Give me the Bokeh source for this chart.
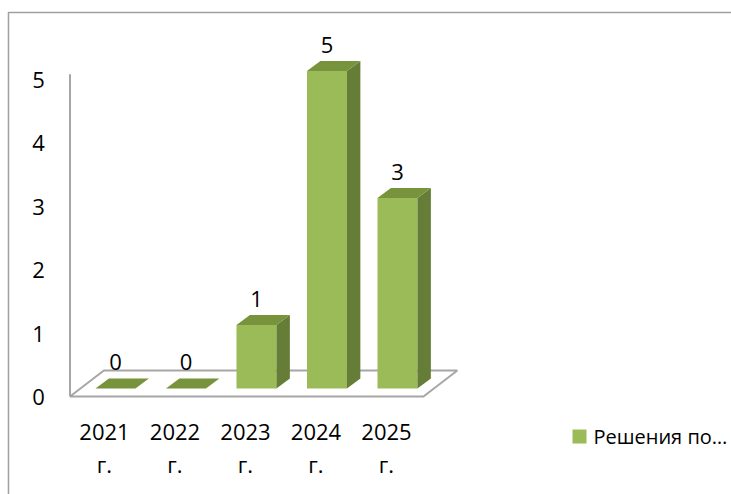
from bokeh.plotting import figure
from bokeh.models import Range1d
from bokeh.core.properties import value
from bokeh.embed import file_html
from bokeh.resources import INLINE

# --- data ---
years = ["2021", "2022", "2023", "2024", "2025"]
year_suffix = "г."
decisions = [0, 0, 1, 5, 3]
y_ticks = [0, 1, 2, 3, 4, 5]
series_label = "Решения по…"

# --- style ---
FONT = value("Open Sans")
FRONT = "#9bbb59"
SIDE = "#657d37"
TOP = "#77933c"
GRID = "#a6a6a6"

bar_w = 0.567      # bar width in category units
dx, dy = 0.19, 0.157  # oblique depth offset (x units, value units)

p = figure(width=731, height=494, output_backend="svg", toolbar_location=None,
           x_range=Range1d(-0.631, 9.738), y_range=Range1d(-1.669, 6.110),
           min_border=0, outline_line_color=None)
p.axis.visible = False
p.grid.visible = False
p.background_fill_color = "white"
p.border_fill_color = "white"

# chart-area border
p.quad(left=[-0.518], right=[12], bottom=[-3], top=[5.921],
       fill_color=None, line_color="#a0a0a0", line_width=1.5)

# floor and value-axis wall line
fl, fr, ff, fb, shift = 0.355, 5.369, -0.126, 0.283, 0.48
p.patch([fl, fr, fr + shift, fl + shift], [ff, ff, fb, fb],
        fill_color=None, line_color=GRID, line_width=2)
p.line([fl, fl], [ff, 4.95], line_color=GRID, line_width=2)

# value tick labels
p.text(x=[-0.092] * len(y_ticks), y=[t - 0.14 for t in y_ticks],
       text=[str(t) for t in y_ticks], text_font=FONT, text_font_size="22px",
       text_align="center", text_baseline="middle", text_color="black")

# 3D columns
xs = [i + 1 for i in range(len(years))]
front_l = [c - bar_w / 2 for c in xs]
front_r = [c + bar_w / 2 for c in xs]

side_x = [[r, r + dx, r + dx, r] for r in front_r]
side_y = [[0, dy, v + dy, v] for v in decisions]
top_x = [[l, r, r + dx, l + dx] for l, r in zip(front_l, front_r)]
top_y = [[v, v, v + dy, v + dy] for v in decisions]

p.quad(left=front_l, right=front_r, bottom=[0] * len(xs), top=decisions,
       fill_color=FRONT, line_color=None)
p.patches(side_x, side_y, fill_color=SIDE, line_color=None)
p.patches(top_x, top_y, fill_color=TOP, line_color=None)

# data labels
p.text(x=xs, y=[v + 0.41 for v in decisions], text=[str(v) for v in decisions],
       text_font=FONT, text_font_size="22px", text_align="center",
       text_baseline="middle", text_color="black")

# category labels (two lines)
cat_x = [c - 0.156 for c in xs]
p.text(x=cat_x, y=[-0.677] * len(xs), text=years, text_font=FONT,
       text_font_size="22px", text_align="center", text_baseline="middle",
       text_color="black")
p.text(x=cat_x, y=[-1.181] * len(xs), text=[year_suffix] * len(xs), text_font=FONT,
       text_font_size="22px", text_align="center", text_baseline="middle",
       text_color="black")

# legend
p.scatter(x=[7.582], y=[-0.756], marker="square", size=14,
          fill_color=FRONT, line_color=None)
p.text(x=[7.78], y=[-0.756], text=[series_label], text_font=FONT,
       text_font_size="20px", text_align="left", text_baseline="middle",
       text_color="black")

open("out.html", "w").write(file_html(p, INLINE))
